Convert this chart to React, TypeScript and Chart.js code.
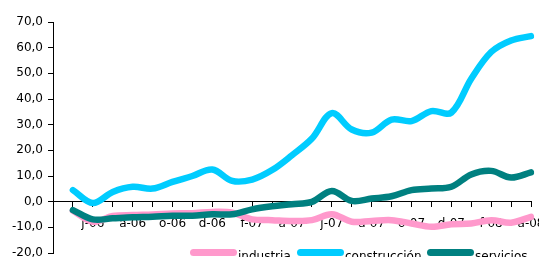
import React, { useEffect, useRef } from "react";
import { Chart, registerables } from "chart.js";

Chart.register(...registerables);

const categories = [
  "a-06", "m-06", "j-06", "j-06", "a-06", "s-06", "o-06", "n-06", "d-06",
  "e-07", "f-07", "m-07", "a-07", "m-07", "j-07", "j-07", "a-07", "s-07", "o-07", "n-07", "d-07",
  "e-08", "f-08", "m-08", "a-08",
];

const industria = [
  null, -3.5, -7.8, -5.6, -5.2, -5.0, -4.6, -4.5, -4.0,
  -4.3, -6.9, -7.2, -7.5, -7.2, -4.9, -7.8, -7.5, -7.2, -8.5, -9.8, -8.8,
  -8.5, -7.2, -8.2, -5.9,
];

const construccion = [
  null, 4.5, -0.5, 3.8, 5.8, 5.1, 7.7, 10.0, 12.5,
  8.1, 8.6, 12.3, 18.1, 24.6, 34.5, 28.1, 26.9, 32.0, 31.4, 35.3, 34.7,
  47.9, 58.3, 62.8, 64.5,
];

const servicios = [
  null, -3.3, -6.9, -6.5, -6.1, -5.9, -5.5, -5.5, -4.9,
  -4.9, -3.0, -1.8, -1.0, -0.1, 4.2, 0.3, 1.2, 2.1, 4.5, 5.1, 5.8,
  10.6, 12.0, 9.4, 11.4,
];

const yTicks = [-20, -10, 0, 10, 20, 30, 40, 50, 60, 70];

const FONT = "'DejaVu Sans', sans-serif";

const legendPlugin = {
  id: "customLegend",
  afterDraw(chart: any) {
    const ctx = chart.ctx;
    const positions = [190, 297, 427];
    const sampleW = 47;
    const y = 252.5;
    ctx.save();
    const dsList = chart.data.datasets;
    dsList.forEach((ds: any, i: number) => {
      const x = positions[i];
      ctx.strokeStyle = ds.borderColor;
      ctx.lineWidth = 7;
      ctx.lineCap = "round";
      ctx.beginPath();
      ctx.moveTo(x + 3.5, y);
      ctx.lineTo(x + sampleW - 3.5, y);
      ctx.stroke();
      ctx.fillStyle = "#000";
      ctx.font = "12px " + FONT;
      ctx.textBaseline = "alphabetic";
      ctx.textAlign = "left";
      ctx.fillText(ds.label, x + sampleW + 1, 259.5);
    });
    ctx.restore();
  },
};

export default function App() {
  const ref = useRef<HTMLCanvasElement>(null);
  useEffect(() => {
    document.body.style.margin = "0";
    const chart = new Chart(ref.current!, {
      type: "line",
      data: {
        labels: categories,
        datasets: [
          {
            label: "industria",
            data: industria,
            borderColor: "#FF99CC",
            backgroundColor: "#FF99CC",
            order: 2,
          },
          {
            label: "construcción",
            data: construccion,
            borderColor: "#00CCFF",
            backgroundColor: "#00CCFF",
            order: 1,
          },
          {
            label: "servicios",
            data: servicios,
            borderColor: "#008080",
            backgroundColor: "#008080",
            order: 0,
          },
        ] as any,
      },
      options: {
        animation: false,
        responsive: false,
        devicePixelRatio: 1,
        layout: { padding: { top: 22, bottom: 4, right: 8, left: 0 } },
        elements: {
          line: { borderWidth: 6.5, tension: 0.35, borderCapStyle: "round", borderJoinStyle: "round" },
          point: { radius: 0, hoverRadius: 0 },
        },
        plugins: {
          legend: { display: false },
          tooltip: { enabled: false },
        },
        scales: {
          x: {
            position: { y: 0 } as any,
            offset: false,
            z: 1,
            afterFit: (scale: any) => {
              scale.height = 0;
              scale.paddingLeft = 0;
              scale.paddingRight = 0;
              scale.paddingTop = 0;
              scale.paddingBottom = 0;
            },
            grid: {
              drawOnChartArea: false,
              drawTicks: true,
              tickLength: 5,
              tickColor: "#000",
              tickWidth: 1,
            },
            border: { color: "#000", width: 1 },
            ticks: {
              autoSkip: false,
              maxRotation: 0,
              minRotation: 0,
              padding: 10,
              color: "#000",
              font: { family: FONT, size: 12 },
              callback: (_v: any, idx: number) => (idx > 0 && idx % 2 === 0 ? categories[idx] : ""),
            },
          },
          y: {
            min: yTicks[0],
            max: yTicks[yTicks.length - 1],
            afterBuildTicks: (scale: any) => {
              scale.ticks = yTicks.map((v) => ({ value: v }));
            },
            afterFit: (scale: any) => {
              scale.width = 53;
              scale.paddingTop = 0;
              scale.paddingBottom = 0;
            },
            grid: {
              drawOnChartArea: false,
              drawTicks: true,
              tickLength: 5,
              tickColor: "#000",
            },
            border: { color: "#000", width: 1 },
            ticks: {
              padding: 5,
              color: "#000",
              font: { family: FONT, size: 12 },
              callback: (v: any) => Number(v).toFixed(1).replace(".", ","),
            },
          },
        },
      },
      plugins: [legendPlugin],
    });
    return () => chart.destroy();
  }, []);
  return <canvas ref={ref} width={539} height={257} style={{ display: "block", width: 539, height: 257 }} />;
}
